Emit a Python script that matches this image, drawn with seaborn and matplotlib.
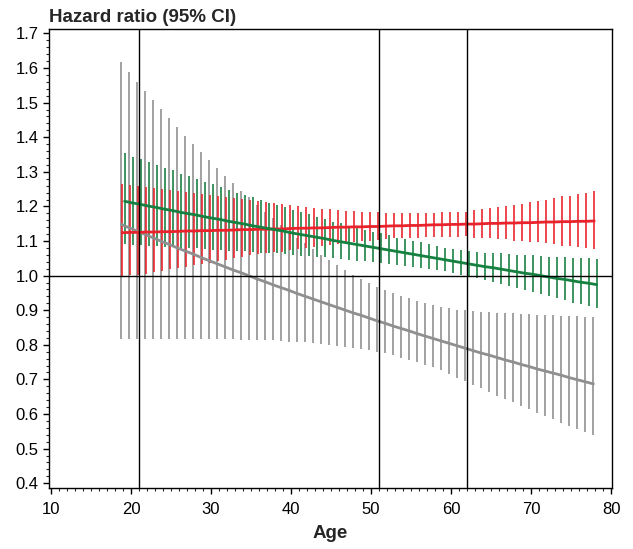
import numpy as np
import pandas as pd
import matplotlib
matplotlib.use("Agg")
import matplotlib.pyplot as plt
import seaborn as sns
from matplotlib.ticker import MultipleLocator

# ages at which the hazard ratio was estimated
ages = list(range(19, 79))

# gray series
gray_hr = [1.148, 1.138, 1.128, 1.119, 1.109, 1.099, 1.090, 1.080, 1.071, 1.062,
           1.052, 1.043, 1.034, 1.025, 1.016, 1.008, 0.999, 0.990, 0.982, 0.973,
           0.965, 0.957, 0.948, 0.940, 0.932, 0.924, 0.916, 0.908, 0.900, 0.892,
           0.885, 0.877, 0.869, 0.862, 0.854, 0.847, 0.840, 0.832, 0.825, 0.818,
           0.811, 0.804, 0.797, 0.790, 0.783, 0.776, 0.770, 0.763, 0.756, 0.750,
           0.743, 0.737, 0.730, 0.724, 0.718, 0.712, 0.705, 0.699, 0.693, 0.687]
gray_lo = [0.818, 0.818, 0.818, 0.818, 0.818, 0.818, 0.818, 0.818, 0.817, 0.817,
           0.817, 0.817, 0.816, 0.816, 0.816, 0.815, 0.815, 0.814, 0.814, 0.813,
           0.811, 0.809, 0.808, 0.807, 0.804, 0.801, 0.799, 0.797, 0.794, 0.792,
           0.787, 0.785, 0.780, 0.775, 0.770, 0.763, 0.756, 0.750, 0.743, 0.736,
           0.727, 0.716, 0.705, 0.694, 0.684, 0.674, 0.665, 0.653, 0.644, 0.634,
           0.623, 0.614, 0.602, 0.593, 0.585, 0.575, 0.566, 0.557, 0.547, 0.538]
gray_hi = [1.617, 1.589, 1.561, 1.534, 1.508, 1.481, 1.455, 1.430, 1.405, 1.381,
           1.357, 1.334, 1.311, 1.289, 1.267, 1.246, 1.226, 1.205, 1.185, 1.166,
           1.147, 1.128, 1.110, 1.093, 1.076, 1.060, 1.045, 1.030, 1.016, 1.002,
           0.990, 0.979, 0.968, 0.959, 0.950, 0.942, 0.935, 0.928, 0.922, 0.916,
           0.910, 0.905, 0.902, 0.900, 0.898, 0.896, 0.895, 0.893, 0.892, 0.891,
           0.890, 0.888, 0.887, 0.886, 0.885, 0.884, 0.883, 0.882, 0.881, 0.880]

# red series
red_hr = [1.124, 1.125, 1.125, 1.126, 1.126, 1.127, 1.127, 1.128, 1.129, 1.129,
          1.130, 1.130, 1.131, 1.131, 1.132, 1.133, 1.133, 1.134, 1.134, 1.135,
          1.135, 1.136, 1.137, 1.137, 1.138, 1.138, 1.139, 1.140, 1.140, 1.141,
          1.141, 1.142, 1.142, 1.143, 1.144, 1.144, 1.145, 1.145, 1.146, 1.147,
          1.147, 1.148, 1.148, 1.149, 1.149, 1.150, 1.151, 1.151, 1.152, 1.152,
          1.153, 1.153, 1.154, 1.155, 1.155, 1.156, 1.156, 1.157, 1.157, 1.158]
red_lo = [0.996, 1.001, 1.001, 1.006, 1.011, 1.014, 1.018, 1.022, 1.025, 1.030,
          1.035, 1.037, 1.041, 1.046, 1.051, 1.054, 1.059, 1.062, 1.065, 1.068,
          1.068, 1.073, 1.076, 1.079, 1.083, 1.085, 1.088, 1.092, 1.094, 1.097,
          1.099, 1.101, 1.102, 1.105, 1.108, 1.108, 1.110, 1.110, 1.112, 1.113,
          1.111, 1.113, 1.113, 1.114, 1.109, 1.109, 1.109, 1.106, 1.105, 1.101,
          1.101, 1.097, 1.096, 1.093, 1.090, 1.087, 1.086, 1.083, 1.080, 1.078]
red_hi = [1.265, 1.262, 1.260, 1.257, 1.254, 1.251, 1.247, 1.244, 1.241, 1.238,
          1.235, 1.232, 1.229, 1.226, 1.223, 1.221, 1.218, 1.215, 1.212, 1.209,
          1.206, 1.203, 1.201, 1.198, 1.196, 1.194, 1.192, 1.190, 1.188, 1.187,
          1.185, 1.184, 1.183, 1.182, 1.181, 1.181, 1.181, 1.181, 1.181, 1.182,
          1.184, 1.184, 1.184, 1.185, 1.190, 1.193, 1.195, 1.198, 1.201, 1.205,
          1.207, 1.212, 1.215, 1.220, 1.224, 1.229, 1.231, 1.236, 1.239, 1.244]

# green series
green_hr = [1.215, 1.210, 1.206, 1.201, 1.197, 1.192, 1.188, 1.183, 1.179, 1.175,
            1.170, 1.166, 1.162, 1.157, 1.153, 1.149, 1.144, 1.140, 1.136, 1.132,
            1.128, 1.123, 1.119, 1.115, 1.111, 1.107, 1.102, 1.098, 1.094, 1.090,
            1.086, 1.082, 1.078, 1.074, 1.070, 1.066, 1.062, 1.058, 1.054, 1.050,
            1.046, 1.042, 1.038, 1.034, 1.030, 1.026, 1.023, 1.019, 1.015, 1.011,
            1.007, 1.004, 1.000, 0.996, 0.992, 0.989, 0.985, 0.981, 0.978, 0.974]
green_lo = [1.091, 1.089, 1.088, 1.087, 1.085, 1.084, 1.083, 1.081, 1.080, 1.079,
            1.077, 1.075, 1.075, 1.072, 1.072, 1.070, 1.068, 1.066, 1.066, 1.064,
            1.062, 1.060, 1.058, 1.056, 1.055, 1.053, 1.050, 1.048, 1.046, 1.043,
            1.041, 1.039, 1.036, 1.034, 1.031, 1.028, 1.025, 1.022, 1.019, 1.015,
            1.012, 1.007, 1.002, 0.997, 0.993, 0.988, 0.983, 0.976, 0.970, 0.964,
            0.958, 0.952, 0.947, 0.940, 0.934, 0.929, 0.922, 0.917, 0.911, 0.905]
green_hi = [1.354, 1.344, 1.337, 1.327, 1.320, 1.311, 1.304, 1.294, 1.287, 1.279,
            1.271, 1.264, 1.256, 1.248, 1.240, 1.234, 1.226, 1.219, 1.211, 1.204,
            1.198, 1.190, 1.183, 1.177, 1.170, 1.164, 1.156, 1.151, 1.144, 1.139,
            1.133, 1.127, 1.122, 1.116, 1.110, 1.105, 1.100, 1.096, 1.090, 1.086,
            1.081, 1.078, 1.075, 1.072, 1.069, 1.066, 1.065, 1.064, 1.062, 1.061,
            1.059, 1.059, 1.057, 1.055, 1.053, 1.053, 1.052, 1.050, 1.050, 1.049]

ref_ages = [21, 51, 62]

frames = []
for name, hr, lo, hi in [("gray", gray_hr, gray_lo, gray_hi),
                         ("red", red_hr, red_lo, red_hi),
                         ("green", green_hr, green_lo, green_hi)]:
    frames.append(pd.DataFrame({"age": ages, "hr": hr, "lo": lo, "hi": hi, "group": name}))
df = pd.concat(frames, ignore_index=True)

# small horizontal shift so the bars don't sit on top of each other
shift = {"gray": -0.2, "red": -0.1, "green": 0.2}
df["x"] = df["age"] + df["group"].map(shift)

palette = {"gray": "#8f8f8f", "red": "#e8232b", "green": "#15803f"}

sns.set_style("ticks")
plt.rcParams["font.family"] = ["Liberation Sans", "DejaVu Sans"]

fig = plt.figure(figsize=(6.33, 5.49), dpi=100)
ax = fig.add_axes([49 / 633, 1 - 487.7 / 549, (612.3 - 49) / 633, (487.7 - 29.3) / 549])

for g in ["gray", "red", "green"]:
    d = df[df.group == g]
    ax.vlines(d["x"], d["lo"], d["hi"], color=palette[g], lw=1.3, alpha=0.9, zorder=2)

sns.lineplot(data=df, x="x", y="hr", hue="group", palette=palette,
             hue_order=["gray", "red", "green"], lw=2, legend=False, ax=ax, zorder=3)

for a in ref_ages:
    ax.axvline(a, color="black", lw=1, zorder=4)
ax.axhline(1.0, color="black", lw=1, zorder=4)

ax.set_xlim(9.75, 80.16)
ax.set_ylim(0.387, 1.712)
ax.xaxis.set_major_locator(MultipleLocator(10))
ax.xaxis.set_minor_locator(MultipleLocator(1))
ax.yaxis.set_major_locator(MultipleLocator(0.1))
ax.yaxis.set_minor_locator(MultipleLocator(0.02))
ax.yaxis.set_major_formatter(matplotlib.ticker.FormatStrFormatter("%.1f"))

ax.tick_params(which="major", length=4, width=1, labelsize=12, colors="black")
ax.tick_params(which="minor", length=2, width=0.8)
ax.tick_params(axis="x", pad=6)

for s in ax.spines.values():
    s.set_visible(True)
    s.set_color("black")
    s.set_linewidth(1)

ax.set_xlabel("Age", fontsize=13.5, fontweight="bold", labelpad=6)
ax.set_ylabel("")
ax.set_title("Hazard ratio (95% CI)", loc="left", fontsize=13.5, fontweight="bold", pad=5)

fig.savefig("out.png", dpi=100)
